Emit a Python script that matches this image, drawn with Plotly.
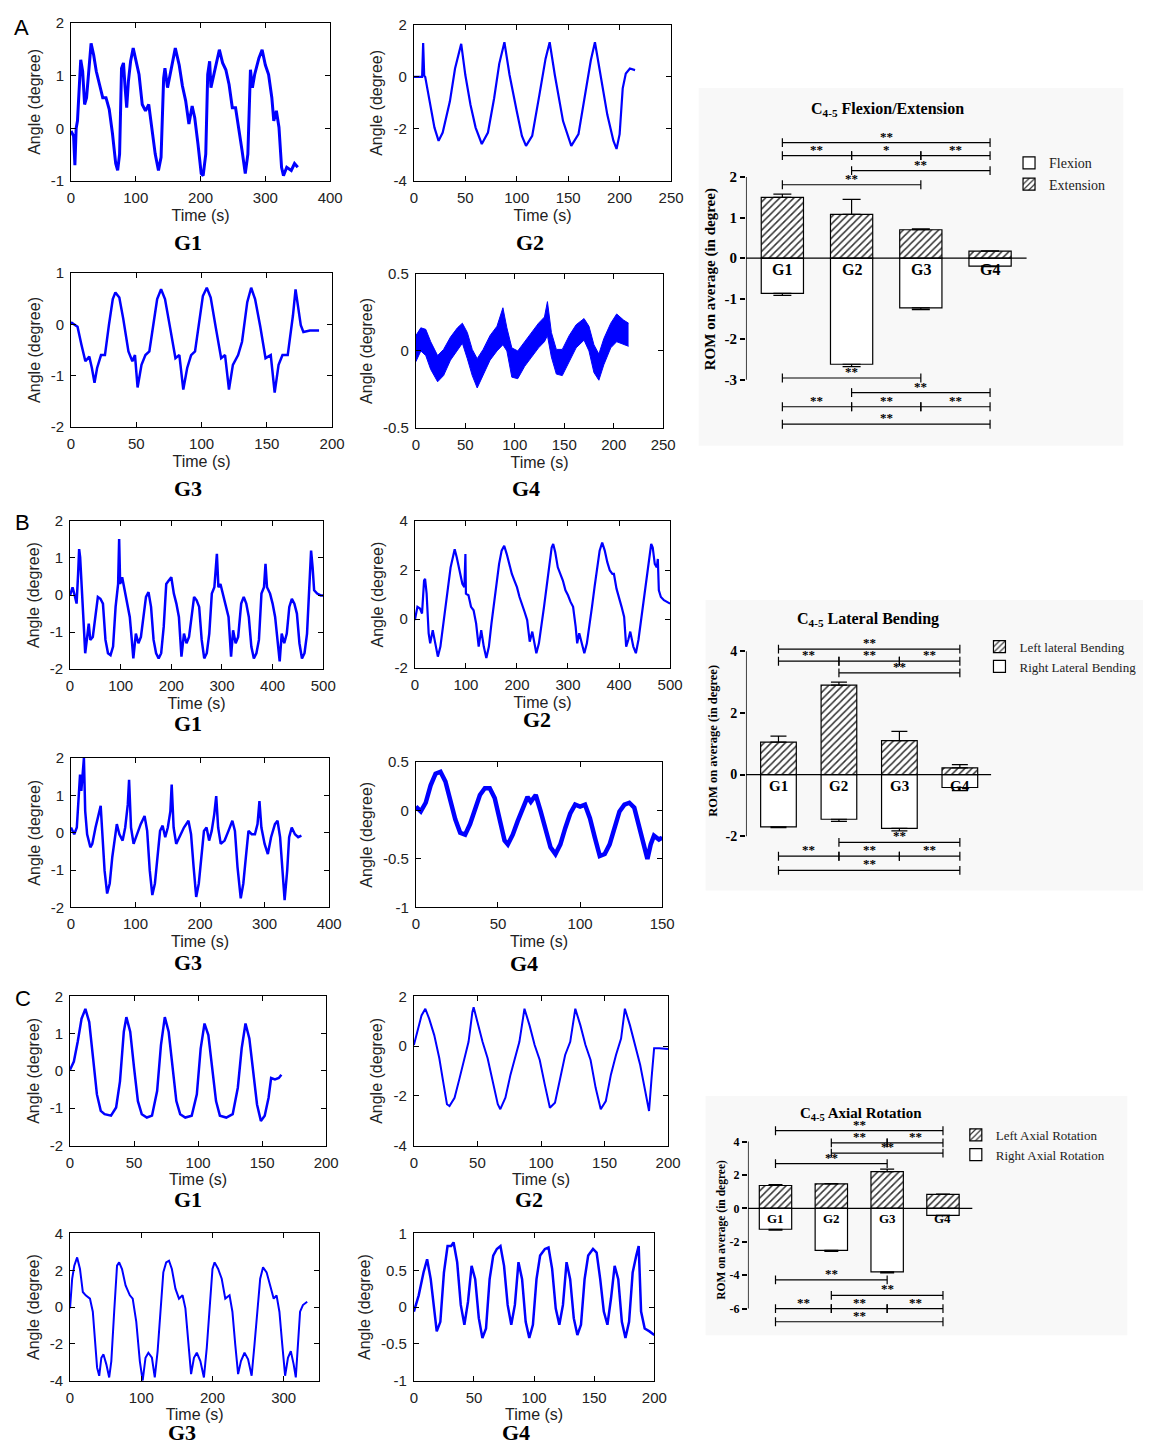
import plotly.graph_objects as go

W, H = 1158, 1451

# ------------------------------------------------------------------ data
# Panel A (flexion / extension) angle traces
A1_t = [0,4,6,8,10,13,15,18,21,24,28,31,35,39,44,49,54,59,64,69,72,75,78,81,83.5,86,88.6,92,96,100,105,110,115,120,125,130,135,139,143,145,149,152,156,161,167,172,177,182,187,191,196,201,204,208,211,214,216,220,224,229,234,239,244,249,254,259,264,269,273,277,280,283.5,290,295,300,305,310,313,317,321,325,328,333,340,345,350]
A1_v = [-0.05,-0.15,-0.7,0.0,0.14,0.86,1.3,1.08,0.45,0.58,1.17,1.61,1.39,1.08,0.83,0.58,0.58,0.36,-0.1,-0.67,-0.8,-0.49,1.14,1.24,0.77,0.39,0.89,1.27,1.52,1.27,1.02,0.45,0.33,0.45,-0.05,-0.49,-0.8,-0.55,0.95,1.14,0.77,0.95,1.17,1.52,1.2,0.8,0.52,0.08,0.42,0.2,-0.3,-0.86,-0.9,-0.49,1.02,1.27,0.77,0.99,1.27,1.49,1.24,1.11,0.83,0.39,0.39,0.02,-0.42,-0.86,-0.49,1.11,0.77,1.02,1.33,1.49,1.2,1.02,0.58,0.14,0.33,0.02,-0.74,-0.9,-0.74,-0.8,-0.67,-0.74]

A2_t = [0,8,9,10,11,15,20,24,28,35,40,46,50,55,60,66,72,78,83,88,93,100,105,109,115,122,128,132,137,145,153,160,166,172,176,181,188,194,197,200,203,206,210,215]
A2_v = [0,0,1.3,0.05,0,-0.94,-1.95,-2.46,-2.14,-0.94,0.32,1.27,0.07,-1.07,-1.95,-2.58,-2.14,-0.82,0.51,1.33,0.07,-1.32,-2.27,-2.65,-2.27,-0.69,0.7,1.33,0.07,-1.70,-2.65,-2.2,-0.82,0.64,1.33,0.19,-1.45,-2.46,-2.77,-2.2,-0.44,0.13,0.32,0.26]

A3_t = [0,5,8,11,14,16,18,20,23,26,29,32,34,37,40,44,47,49,51,54,57,60,63,66,69,72,76,80,83,86,89,92,95,98,101,104,107,111,115,118,121,124,128,131,135,138,141,145,149,153,156,159,162,166,170,172,174,176,178,183,190]
A3_v = [0.04,-0.05,-0.4,-0.72,-0.63,-0.85,-1.14,-0.85,-0.6,-0.6,-0.02,0.49,0.62,0.52,0.11,-0.53,-0.72,-0.6,-1.23,-0.79,-0.6,-0.53,-0.02,0.49,0.68,0.49,-0.08,-0.66,-0.6,-1.27,-0.85,-0.6,-0.53,0.04,0.55,0.71,0.52,-0.08,-0.66,-0.6,-1.27,-0.79,-0.6,-0.34,0.43,0.71,0.49,-0.05,-0.66,-0.6,-1.33,-0.79,-0.6,-0.6,0.17,0.68,0.36,-0.02,-0.15,-0.12,-0.12]

A4_t = [0,5,10,15,22,28,35,42,47,52,57,62,68,75,82,88,92,97,103,110,117,124,130,133,137,142,148,155,162,170,175,180,185,190,197,203,210,215]
A4_hi = [0.10,0.15,0.14,0.06,-0.03,0.01,0.09,0.15,0.18,0.12,0.01,-0.05,0.01,0.10,0.16,0.28,0.15,0.02,0.00,0.06,0.12,0.18,0.22,0.32,0.12,0.01,0.01,0.10,0.17,0.21,0.16,0.04,-0.02,0.08,0.18,0.24,0.20,0.18]
A4_lo = [-0.07,0.00,-0.03,-0.12,-0.20,-0.16,-0.06,0.00,0.05,-0.05,-0.16,-0.24,-0.16,-0.06,0.00,0.04,0.00,-0.17,-0.18,-0.10,-0.04,0.02,0.06,0.10,-0.04,-0.15,-0.16,-0.07,0.02,0.07,0.00,-0.14,-0.19,-0.09,0.02,0.06,0.04,0.03]

# Panel B (lateral bending)
B1_t = [0,5,10,13,16,18,20,22,25,28,30,33,37,40,45,50,55,60,65,70,75,80,85,90,95,97,99,103,108,113,118,122,125,130,135,140,145,150,155,160,165,170,175,180,185,190,195,200,205,210,215,220,225,230,235,240,245,250,255,260,265,270,275,280,285,290,293,297,302,308,313,318,322,327,332,338,343,348,353,358,363,368,373,378,383,386,389,395,400,405,410,414,418,423,428,433,438,443,448,453,458,463,468,472,476,479,482,488,495,500]
B1_v = [-0.01,0.21,-0.05,-0.23,0.57,1.24,1.02,0.57,-0.32,-1.04,-1.57,-1.21,-0.77,-1.21,-1.13,-0.59,-0.05,-0.10,-0.23,-1.21,-1.57,-1.62,-1.39,-0.32,0.3,1.51,0.3,0.48,0.13,-0.14,-0.59,-1.21,-1.71,-1.04,-1.3,-1.13,-0.5,-0.05,0.08,-0.32,-1.21,-1.57,-1.71,-1.57,-0.86,0.3,0.39,0.48,0.04,-0.23,-0.59,-1.66,-1.04,-1.3,-1.13,-0.5,-0.05,-0.14,-0.32,-1.21,-1.71,-1.57,-1.04,0.04,0.21,1.11,0.21,0.3,0.04,-0.32,-0.59,-1.66,-0.95,-1.3,-1.13,-0.23,-0.05,-0.23,-0.59,-1.39,-1.71,-1.57,-1.21,0.04,0.21,0.84,0.21,0.04,-0.23,-0.59,-1.39,-1.79,-1.04,-1.3,-1.04,-0.32,-0.10,-0.23,-0.5,-1.3,-1.71,-1.57,-1.04,0.21,1.2,0.75,0.13,0.04,-0.01,-0.01]

B2_t = [0,5,10,14,18,20,23,27,30,35,40,45,50,55,60,65,70,75,78,82,88,93,97,99,100,105,110,115,120,125,130,135,140,145,150,155,160,165,170,175,180,185,190,195,200,205,210,215,220,225,230,235,238,243,248,253,258,263,268,271,275,280,285,290,295,300,305,310,315,318,322,328,332,337,342,347,352,357,362,367,372,377,382,387,390,395,400,405,410,414,418,422,428,433,438,443,448,453,458,463,466,470,474,476,478,482,488,495,500]
B2_v = [-0.04,0.5,0.43,0.23,1.57,1.64,1.04,-0.58,-0.99,-0.45,-0.99,-1.53,-1.12,-0.38,0.5,1.3,2.11,2.65,2.85,2.52,1.84,1.44,1.3,2.65,1.04,0.97,0.5,0.36,-0.18,-1.12,-0.45,-1.12,-1.59,-1.12,-0.18,0.63,1.44,2.25,2.79,2.99,2.65,2.25,1.84,1.57,1.30,0.90,0.63,0.29,-0.04,-0.92,-0.51,-1.12,-1.39,-0.99,-0.31,0.5,1.3,2.11,2.92,3.06,2.72,2.11,1.84,1.57,1.17,0.97,0.7,0.5,-0.31,-0.99,-0.58,-1.12,-1.39,-0.99,-0.31,0.5,1.3,2.11,2.79,3.12,2.79,2.32,1.98,1.84,1.84,1.24,0.90,0.5,0.09,-1.12,-0.85,-0.51,-1.12,-1.39,-0.85,-0.04,0.77,1.57,2.38,3.06,2.92,2.25,2.11,2.45,1.17,0.90,0.77,0.7,0.63]

B3_t = [0,5,9,12,14,16,18,20,22,25,30,33,38,43,46,48,52,56,60,64,68,71,75,80,84,88,90,93,97,102,108,114,118,122,126,130,134,138,142,146,150,154,156,159,163,168,175,182,186,190,194,198,202,206,210,214,218,222,225,228,232,238,244,250,254,258,263,267,271,275,280,285,289,292,295,300,305,310,316,320,324,328,331,335,338,342,347,352,357]
B3_v = [0.14,-0.04,0.14,1.03,1.56,1.12,1.73,2.0,0.58,-0.04,-0.39,-0.3,0.14,0.5,0.72,0.14,-1.01,-1.63,-1.36,-0.65,-0.12,0.23,-0.04,-0.21,0.14,0.76,1.42,0.14,-0.3,-0.04,0.23,0.45,0.05,-1.01,-1.67,-1.36,-0.65,0.05,0.19,-0.12,0.14,0.58,1.29,0.14,-0.3,-0.12,0.14,0.32,-0.04,-0.92,-1.72,-1.36,-0.65,0.05,0.14,-0.21,0.05,0.5,0.98,0.14,-0.3,-0.21,0.05,0.32,0.05,-0.92,-1.76,-1.36,-0.65,0.05,-0.04,-0.04,0.23,0.85,0.14,-0.3,-0.57,-0.12,0.23,0.32,-0.12,-1.01,-1.81,-1.01,-0.12,0.14,-0.04,-0.12,-0.08]

B4_t = [0,3,6,9,12,15,18,21,24,27,30,33,36,39,42,45,48,51,54,56,59,62,65,68,70,73,76,79,82,85,88,91,94,97,100,103,106,109,112,115,118,121,124,127,130,133,136,139,141,143,145,148,150]
B4_v = [0.04,-0.01,0.08,0.26,0.38,0.40,0.3,0.09,-0.09,-0.23,-0.25,-0.14,0.0,0.16,0.23,0.23,0.13,-0.08,-0.31,-0.35,-0.25,-0.11,0.03,0.14,0.09,0.16,-0.01,-0.21,-0.38,-0.45,-0.35,-0.18,-0.03,0.06,0.04,0.06,-0.08,-0.28,-0.47,-0.45,-0.35,-0.18,-0.01,0.06,0.08,0.03,-0.18,-0.38,-0.5,-0.35,-0.26,-0.3,-0.28]

# Panel C (axial rotation)
C1_t = [0,3,6,9,12,15,18,21,24,27,32,36,39,42,44,47,50,53,56,60,64,68,71,74,77,80,83,86,90,95,99,102,105,108,111,114,117,122,127,131,134,137,140,143,146,149,152,155,157,160,163,165]
C1_v = [0.03,0.25,0.78,1.4,1.66,1.31,0.34,-0.63,-1.07,-1.16,-1.2,-0.98,-0.28,1.05,1.44,1.05,0.08,-0.81,-1.16,-1.25,-1.2,-0.54,0.69,1.44,1.05,0.08,-0.81,-1.16,-1.25,-1.2,-0.63,0.6,1.27,0.96,0.08,-0.81,-1.2,-1.25,-1.16,-0.45,0.6,1.27,0.87,-0.01,-0.9,-1.34,-1.2,-0.72,-0.19,-0.23,-0.19,-0.1]

C2_t = [0,3,6,9,12,16,20,23,26,28,32,36,40,43,46,47,50,54,58,62,66,68,72,76,80,83,87,91,95,99,103,107,111,115,119,123,127,131,135,139,143,147,151,155,159,163,166,170,174,178,182,185,187,189,193,200]
C2_v = [0.04,0.7,1.23,1.5,1.1,0.44,-0.49,-1.42,-2.34,-2.41,-2.08,-1.28,-0.49,0.17,1.36,1.56,0.97,0.17,-0.49,-1.42,-2.34,-2.54,-2.08,-1.15,-0.36,0.17,1.5,0.83,0.04,-0.56,-1.55,-2.48,-2.28,-1.28,-0.36,0.17,1.5,0.83,0.04,-0.56,-1.68,-2.54,-2.21,-1.15,-0.36,0.3,1.5,0.83,0.04,-0.75,-1.81,-2.61,-1.28,-0.09,-0.09,-0.12]

C3_t = [0,3,6,10,14,18,22,28,32,35,38,41,44,47,51,55,58,62,66,69,73,78,84,88,93,98,102,106,110,115,119,123,127,131,135,139,143,148,153,158,162,166,170,174,178,183,188,192,196,200,203,208,213,218,224,228,232,236,240,245,250,255,259,263,267,271,276,281,286,290,294,298,302,306,310,314,317,320,323,327,333]
C3_v = [-0.07,1.54,2.25,2.7,2.07,0.82,0.64,0.46,-0.25,-2.04,-3.29,-3.73,-2.75,-2.57,-3.11,-3.82,-2.93,-0.25,2.25,2.43,2.07,1.18,0.64,0.46,-0.79,-2.93,-4.0,-2.75,-2.48,-2.75,-3.82,-2.39,-0.25,1.89,2.43,2.52,2.07,1.0,0.46,0.64,-0.07,-2.04,-3.64,-2.75,-2.48,-2.93,-3.82,-2.21,-0.25,2.07,2.43,2.07,1.54,0.46,0.64,-0.25,-2.04,-3.64,-2.93,-2.48,-2.84,-3.73,-2.04,-0.25,1.54,2.16,1.89,1.18,0.46,0.64,-0.25,-2.04,-3.73,-2.75,-2.39,-3.11,-3.82,-2.04,-0.25,0.11,0.29]

C4_t = [0,4,8,11,14,17,19,22,25,28,31,33,36,39,42,45,48,51,54,57,60,63,66,69,72,75,78,81,84,87,90,93,96,99,102,105,109,112,115,118,121,124,127,130,133,136,139,142,145,149,152,155,158,161,164,167,170,173,176,179,182,185,187,189,192,196,200]
C4_v = [-0.06,0.16,0.47,0.65,0.38,-0.06,-0.33,-0.2,0.47,0.83,0.83,0.88,0.61,0.03,-0.24,0.07,0.56,0.38,-0.15,-0.42,-0.29,0.38,0.7,0.79,0.83,0.56,0.03,-0.24,0.03,0.61,0.38,-0.2,-0.42,-0.24,0.38,0.7,0.79,0.81,0.52,-0.02,-0.24,0.03,0.61,0.38,-0.15,-0.38,-0.24,0.38,0.7,0.79,0.74,0.38,-0.06,-0.24,0.12,0.56,0.38,-0.2,-0.42,-0.2,0.47,0.7,0.83,-0.06,-0.29,-0.33,-0.38]

# Bar charts: mean ROM and error (SE) per group
GROUPS = ["G1", "G2", "G3", "G4"]
GROUP_X = [1, 2, 3, 4]
FE_extension = [1.50, 1.08, 0.70, 0.17]
FE_extension_err = [0.08, 0.37, 0.02, 0.01]
FE_flexion = [-0.87, -2.62, -1.23, -0.20]
FE_flexion_err = [0.05, 0.06, 0.04, 0.01]
LB_left = [1.05, 2.90, 1.10, 0.22]
LB_left_err = [0.20, 0.10, 0.30, 0.10]
LB_right = [-1.70, -1.45, -1.75, -0.42]
LB_right_err = [0.02, 0.07, 0.08, 0.10]
AR_left = [1.37, 1.47, 2.20, 0.84]
AR_left_err = [0.06, 0.02, 0.15, 0.02]
AR_right = [-1.25, -2.52, -3.80, -0.42]
AR_right_err = [0.05, 0.06, 0.07, 0.02]

# significance brackets: (from group, to group, level, label)
FE_sig = [(1,4,2.85,"**"),(1,2,2.53,"**"),(2,3,2.53,"*"),(3,4,2.53,"**"),(2,4,2.16,"**"),(1,3,1.81,"**"),
          (1,3,-2.96,"**"),(2,4,-3.32,"**"),(1,2,-3.67,"**"),(2,3,-3.67,"**"),(3,4,-3.67,"**"),(1,4,-4.10,"**")]
LB_sig = [(1,4,4.07,"**"),(1,2,3.68,"**"),(2,3,3.68,"**"),(3,4,3.68,"**"),(2,4,3.30,"**"),
          (2,4,-2.20,"**"),(1,2,-2.65,"**"),(2,3,-2.65,"**"),(3,4,-2.65,"**"),(1,4,-3.11,"**")]
AR_sig = [(1,4,4.65,"**"),(2,3,3.92,"**"),(3,4,3.92,"**"),(2,4,3.31,"**"),(1,3,2.68,"**"),
          (1,3,-4.28,"**"),(2,4,-5.21,"**"),(1,2,-6.0,"**"),(2,3,-6.0,"**"),(3,4,-6.0,"**"),(1,4,-6.79,"**")]

# ------------------------------------------------------------------ helpers
BLUE = "#0000ff"
SANS = "Liberation Sans, Arial, sans-serif"
SERIF = "Liberation Serif, Times New Roman, serif"


def pxx(x):
    return x / W


def pxy(y):
    return 1 - y / H


def axn(i, letter):
    return f"{letter}{i}" if i > 1 else letter


def lay(i, letter):
    return f"{letter}axis{i}" if i > 1 else f"{letter}axis"


def fmt(v):
    return f"{v:g}"


fig = go.Figure()
layout = dict(width=W, height=H, margin=dict(l=0, r=0, t=0, b=0),
              paper_bgcolor="white", plot_bgcolor="rgba(0,0,0,0)",
              barmode="overlay", showlegend=True)
annotations = []
shapes = []

# light gray panels behind bar charts
for (x0, y0, x1, y1) in [(705, 80, 1136, 442), (712, 598, 1156, 892), (712, 1100, 1140, 1342)]:
    shapes.append(dict(type="rect", xref="paper", yref="paper", x0=pxx(x0), x1=pxx(x1),
                       y0=pxy(y1), y1=pxy(y0), fillcolor="#f8f8f8", line=dict(width=0), layer="below"))

# ------------------------------------------------------------------ time series
ts_specs = [
    # t, v, box(px: x0,x1,ytop,ybot), xrange, xticks, yrange, yticks, linewidth, label, label pos
    (A1_t, A1_v, (68, 331, 14, 174), (0, 400), [0, 100, 200, 300, 400], (-1, 2), [-1, 0, 1, 2], 3.0, "G1", (187, 236)),
    (A2_t, A2_v, (416, 677, 16, 174), (0, 250), [0, 50, 100, 150, 200, 250], (-4, 2), [-4, -2, 0, 2], 2.2, "G2", (534, 236)),
    (A3_t, A3_v, (68, 333, 267, 423), (0, 200), [0, 50, 100, 150, 200], (-2, 1), [-2, -1, 0, 1], 2.5, "G3", (187, 485)),
    (None, None, (418, 669, 268, 424), (0, 250), [0, 50, 100, 150, 200, 250], (-0.5, 0.5), [-0.5, 0, 0.5], 1.0, "G4", (530, 485)),
    (B1_t, B1_v, (67, 324, 518, 668), (0, 500), [0, 100, 200, 300, 400, 500], (-2, 2), [-2, -1, 0, 1, 2], 2.5, "G1", (187, 723)),
    (B2_t, B2_v, (417, 676, 518, 667), (0, 500), [0, 100, 200, 300, 400, 500], (-2, 4), [-2, 0, 2, 4], 2.2, "G2", (541, 719)),
    (B3_t, B3_v, (68, 330, 758, 909), (0, 400), [0, 100, 200, 300, 400], (-2, 2), [-2, -1, 0, 1, 2], 2.5, "G3", (187, 965)),
    (B4_t, B4_v, (418, 668, 762, 909), (0, 150), [0, 50, 100, 150], (-1, 0.5), [-1, -0.5, 0, 0.5], 4.5, "G4", (528, 966)),
    (C1_t, C1_v, (67, 327, 999, 1150), (0, 200), [0, 50, 100, 150, 200], (-2, 2), [-2, -1, 0, 1, 2], 2.5, "G1", (187, 1205)),
    (C2_t, C2_v, (416, 674, 999, 1150), (0, 200), [0, 50, 100, 150, 200], (-4, 2), [-4, -2, 0, 2], 2.0, "G2", (533, 1205)),
    (C3_t, C3_v, (67, 320, 1239, 1388), (0, 350), [0, 100, 200, 300], (-4, 4), [-4, -2, 0, 2, 4], 2.0, "G3", (181, 1440)),
    (C4_t, C4_v, (416, 660, 1239, 1388), (0, 200), [0, 50, 100, 150, 200], (-1, 1), [-1, -0.5, 0, 0.5, 1], 2.5, "G4", (520, 1440)),
]

for i, (t, v, box, xr, xt, yr, yt, lw, lab, lpos) in enumerate(ts_specs, start=1):
    x0, x1, ytop, ybot = box
    if t is None:
        fig.add_trace(go.Scatter(x=A4_t, y=A4_lo, mode="lines", line=dict(color=BLUE, width=1),
                                 xaxis=axn(i, "x"), yaxis=axn(i, "y"), showlegend=False, hoverinfo="skip"))
        fig.add_trace(go.Scatter(x=A4_t, y=A4_hi, mode="lines", line=dict(color=BLUE, width=1),
                                 fill="tonexty", fillcolor=BLUE,
                                 xaxis=axn(i, "x"), yaxis=axn(i, "y"), showlegend=False, hoverinfo="skip"))
    else:
        fig.add_trace(go.Scatter(x=t, y=v, mode="lines", line=dict(color=BLUE, width=lw),
                                 xaxis=axn(i, "x"), yaxis=axn(i, "y"), showlegend=False))
    common = dict(showline=True, linecolor="black", linewidth=1, mirror="allticks", ticks="inside",
                  ticklen=5, tickcolor="black", showgrid=False, zeroline=False,
                  tickfont=dict(family=SANS, size=15, color="#222"), ticklabelstandoff=3)
    layout[lay(i, "x")] = dict(common, domain=[pxx(x0), pxx(x1)], anchor=axn(i, "y"), range=list(xr),
                               tickvals=xt, ticktext=[fmt(a) for a in xt],
                               title=dict(text="Time (s)", font=dict(family=SANS, size=16, color="#222"), standoff=4))
    layout[lay(i, "y")] = dict(common, domain=[pxy(ybot), pxy(ytop)], anchor=axn(i, "x"), range=list(yr),
                               tickvals=yt, ticktext=[fmt(a) for a in yt],
                               title=dict(text="Angle (degree)", font=dict(family=SANS, size=16, color="#222"), standoff=6))
    annotations.append(dict(xref="paper", yref="paper", x=pxx(lpos[0]), y=pxy(lpos[1]), text=f"<b>{lab}</b>",
                            showarrow=False, font=dict(family=SERIF, size=22, color="black"),
                            xanchor="center", yanchor="middle"))

for letter, (lx, ly) in zip("ABC", [(18, 19), (19, 520), (19, 1001)]):
    annotations.append(dict(xref="paper", yref="paper", x=pxx(lx), y=pxy(ly), text=letter, showarrow=False,
                            font=dict(family=SANS, size=22, color="black"), xanchor="center", yanchor="middle"))

# ------------------------------------------------------------------ bar charts
bar_specs = [
    dict(up=FE_extension, up_err=FE_extension_err, dn=FE_flexion, dn_err=FE_flexion_err,
         up_name="Extension", dn_name="Flexion", dn_first=True, legend="legend",
         box=(753, 1038, 118, 432), xr=(0.474, 4.53), yr=(-4.39, 3.27), axis_lim=(-3, 2), ticks=[-3, -2, -1, 0, 1, 2],
         bw=0.61, cap=9, sig=FE_sig, title="C<sub>4-5</sub> Flexion/Extension", title_pos=(897, 102), title_size=16,
         ytitle_pos=(717, 273), ytitle_size=15, tick_size=15, glab_size=16, leg_pos=(1020, 140), leg_size=14),
    dict(up=LB_left, up_err=LB_left_err, dn=LB_right, dn_err=LB_right_err,
         up_name="Left lateral Bending", dn_name="Right Lateral Bending", dn_first=False, legend="legend2",
         box=(753, 1002, 625, 880), xr=(0.462, 4.52), yr=(-3.38, 4.80), axis_lim=(-2, 4), ticks=[-2, 0, 2, 4],
         bw=0.59, cap=8, sig=LB_sig, title="C<sub>4-5</sub> Lateral Bending", title_pos=(877, 618), title_size=16,
         ytitle_pos=(720, 740), ytitle_size=12.5, tick_size=14, glab_size=15, leg_pos=(990, 630), leg_size=13),
    dict(up=AR_left, up_err=AR_left_err, dn=AR_right, dn_err=AR_right_err,
         up_name="Left Axial Rotation", dn_name="Right Axial Rotation", dn_first=False, legend="legend3",
         box=(755, 983, 1122, 1340), xr=(0.506, 4.53), yr=(-7.48, 5.42), axis_lim=(-6, 4), ticks=[-6, -4, -2, 0, 2, 4],
         bw=0.58, cap=7, sig=AR_sig, title="C<sub>4-5</sub> Axial Rotation", title_pos=(870, 1118), title_size=15,
         ytitle_pos=(728, 1235), ytitle_size=11.5, tick_size=12, glab_size=13, leg_pos=(966, 1124), leg_size=13),
]

pattern = dict(shape="/", fgcolor="#333", bgcolor="white", size=5, solidity=0.3, fillmode="replace")
for k, s in enumerate(bar_specs, start=13):
    xa, ya = axn(k, "x"), axn(k, "y")
    x0, x1, ytop, ybot = s["box"]
    zeros = [0] * len(GROUP_X)
    up_tr = go.Bar(x=GROUP_X, y=s["up"], width=s["bw"], xaxis=xa, yaxis=ya, name=s["up_name"],
                   legend=s["legend"],
                   marker=dict(color="white", line=dict(color="black", width=1.2), pattern=pattern),
                   error_y=dict(type="data", symmetric=False, array=s["up_err"], arrayminus=zeros,
                                color="black", thickness=1.2, width=s["cap"]))
    dn_tr = go.Bar(x=GROUP_X, y=s["dn"], width=s["bw"], xaxis=xa, yaxis=ya, name=s["dn_name"],
                   legend=s["legend"],
                   marker=dict(color="white", line=dict(color="black", width=1.2)),
                   error_y=dict(type="data", symmetric=False, array=zeros, arrayminus=s["dn_err"],
                                color="black", thickness=1.2, width=s["cap"]))
    for tr in ([dn_tr, up_tr] if s["dn_first"] else [up_tr, dn_tr]):
        fig.add_trace(tr)

    layout[lay(k, "x")] = dict(domain=[pxx(x0), pxx(x1)], anchor=ya, range=list(s["xr"]), showline=False,
                               showticklabels=False, ticks="", showgrid=False, zeroline=False)
    layout[lay(k, "y")] = dict(domain=[pxy(ybot), pxy(ytop)], anchor=xa, range=list(s["yr"]), showline=False,
                               tickvals=s["ticks"], ticktext=[fmt(a) for a in s["ticks"]], ticks="outside",
                               ticklen=5, tickcolor="black", tickwidth=1.5, showgrid=False, zeroline=False,
                               tickfont=dict(family=SERIF, size=s["tick_size"], color="black", weight="bold"))
    # y axis line (only across the tick span) and zero line
    shapes.append(dict(type="line", xref=xa, yref=ya, x0=s["xr"][0], x1=s["xr"][0],
                       y0=s["axis_lim"][0], y1=s["axis_lim"][1], line=dict(color="black", width=1.5)))
    shapes.append(dict(type="line", xref=xa, yref=ya, x0=s["xr"][0], x1=s["xr"][1], y0=0, y1=0,
                       line=dict(color="black", width=1.2)))
    # significance brackets
    ppu = (ybot - ytop) / (s["yr"][1] - s["yr"][0])
    tk = 4.5 / ppu
    for (a, b, lv, lab) in s["sig"]:
        shapes.append(dict(type="line", xref=xa, yref=ya, x0=a, x1=b, y0=lv, y1=lv,
                           line=dict(color="black", width=1.2)))
        for e in (a, b):
            shapes.append(dict(type="line", xref=xa, yref=ya, x0=e, x1=e, y0=lv - tk, y1=lv + tk,
                               line=dict(color="black", width=1.2)))
        annotations.append(dict(xref=xa, yref=ya, x=(a + b) / 2, y=lv, text=f"<b>{lab}</b>", showarrow=False,
                                font=dict(family=SERIF, size=13, color="black"), yanchor="bottom",
                                xanchor="center", yshift=-3))
    # group labels on bars
    for gx, g in zip(GROUP_X, GROUPS):
        annotations.append(dict(xref=xa, yref=ya, x=gx, y=0, text=f"<b>{g}</b>", showarrow=False,
                                font=dict(family=SERIF, size=s["glab_size"], color="black"),
                                yanchor="top", xanchor="center", yshift=-1))
    # title and y title
    annotations.append(dict(xref="paper", yref="paper", x=pxx(s["title_pos"][0]), y=pxy(s["title_pos"][1]),
                            text=f"<b>{s['title']}</b>", showarrow=False,
                            font=dict(family=SERIF, size=s["title_size"], color="black"),
                            xanchor="center", yanchor="middle"))
    annotations.append(dict(xref="paper", yref="paper", x=pxx(s["ytitle_pos"][0]), y=pxy(s["ytitle_pos"][1]),
                            text="<b>ROM on average (in degree)</b>", showarrow=False, textangle=-90,
                            font=dict(family=SERIF, size=s["ytitle_size"], color="black"),
                            xanchor="center", yanchor="middle"))
    layout[s["legend"]] = dict(x=pxx(s["leg_pos"][0]), y=pxy(s["leg_pos"][1]), xanchor="left", yanchor="top",
                               bgcolor="rgba(0,0,0,0)", font=dict(family=SERIF, size=s["leg_size"], color="#222"),
                               traceorder="normal", itemwidth=30, tracegroupgap=0)

layout["annotations"] = annotations
layout["shapes"] = shapes
fig.update_layout(**layout)
fig.write_html(
    "out.html",
    config={"displayModeBar": False},
    post_script=(
        "document.documentElement.style.margin='0px';document.documentElement.style.padding='0px';"
        "document.documentElement.style.overflow='hidden';"
        "document.body.style.margin='0px';document.body.style.padding='0px';document.body.style.overflow='hidden';"
        "var gd=document.getElementById('{plot_id}');gd.style.position='absolute';gd.style.left='0px';gd.style.top='0px';"
    ),
)
